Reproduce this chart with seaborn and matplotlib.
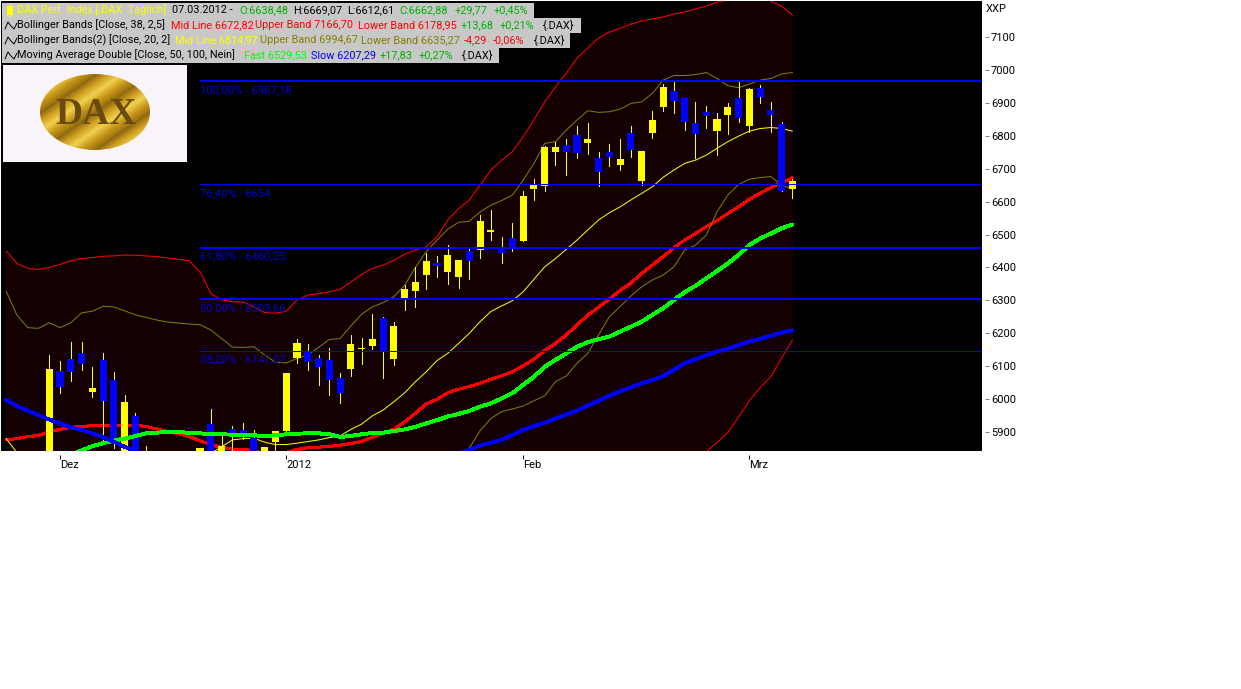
import matplotlib
matplotlib.use('Agg')
import matplotlib.pyplot as plt
from matplotlib.colors import LinearSegmentedColormap
from matplotlib.patches import Ellipse, Rectangle
import numpy as np
import seaborn as sns

nan = np.nan

# trading day number, 0 = 1 Dec 2011, 68 = 7 Mar 2012
days = list(range(-5, 69))

opens = [nan, nan, nan, nan, 5800, 6085, 6121, 6140, 6021, 6118, 6058, 5810, 5948, 5800,
         nan, nan, nan, nan, 5800, 5924, 5800, 5908, 5906, 5883, 5800, 5871, 5903, 6124,
         6143, 6124, 6118, 6064, 6091, 6152, 6161, 6246, 6121, 6301, 6328, 6377, 6413, 6386,
         6371, 6450, 6453, 6508, 6456, 6489, 6480, 6638, 6647, 6750, 6772, 6802, 6778, 6732,
         6750, 6711, 6808, 6662, 6808, 6887, 6936, 6915, 6839, 6872, 6814, 6863, 6915, 6830,
         6945, 6878, 6836, 6638]
highs = [nan, nan, nan, nan, 6134, 6115, 6173, 6173, 6098, 6140, 6082, 6012, 5957, 5857,
         nan, nan, nan, nan, 5851, 5970, 5887, 5918, 5928, 5906, 5854, 5903, 6079, 6182,
         6167, 6134, 6155, 6078, 6194, 6185, 6258, 6248, 6234, 6346, 6401, 6443, 6435, 6468,
         6423, 6459, 6559, 6574, 6492, 6535, 6632, 6668, 6769, 6781, 6790, 6829, 6839, 6750,
         6775, 6790, 6829, 6754, 6875, 6957, 6966, 6915, 6902, 6890, 6869, 6899, 6966, 6945,
         6954, 6902, 6842, 6669]
lows = [nan, nan, nan, nan, 5780, 6018, 6055, 6088, 6006, 5875, 5850, 5800, 5790, 5790,
        nan, nan, nan, nan, 5790, 5790, 5790, 5845, 5879, 5790, 5790, 5830, 5903, 6110,
        6088, 6042, 6012, 5988, 6070, 6106, 6152, 6064, 6103, 6270, 6280, 6334, 6371, 6350,
        6337, 6365, 6428, 6483, 6413, 6450, 6480, 6605, 6632, 6711, 6681, 6732, 6744, 6647,
        6708, 6696, 6735, 6650, 6793, 6875, 6869, 6817, 6732, 6823, 6741, 6805, 6842, 6812,
        6899, 6811, 6632, 6612]
closes = [nan, nan, nan, nan, 6091, 6036, 6082, 6106, 6033, 5994, 5875, 5991, 5800, 5830,
          nan, nan, nan, nan, 5851, 5800, 5857, 5892, 5892, 5800, 5854, 5903, 6079, 6170,
          6112, 6097, 6058, 6018, 6167, 6155, 6182, 6143, 6222, 6334, 6356, 6419, 6404, 6438,
          6422, 6419, 6541, 6514, 6444, 6459, 6617, 6653, 6766, 6766, 6750, 6748, 6790, 6690,
          6735, 6729, 6757, 6754, 6848, 6948, 6905, 6842, 6805, 6860, 6851, 6887, 6854, 6942,
          6918, 6863, 6632, 6662]

bb38_upper = [6450, 6412, 6397, 6394, 6400, 6409, 6420, 6427, 6430, 6434, 6435, 6438, 6437, 6435,
              6433, 6429, 6425, 6420, 6387, 6321, 6301, 6296, 6295, 6280, 6263, 6261, 6267, 6301,
              6316, 6321, 6326, 6333, 6356, 6379, 6397, 6407, 6422, 6440, 6453, 6463, 6493, 6544,
              6579, 6605, 6650, 6696, 6726, 6752, 6797, 6848, 6903, 6949, 6990, 7036, 7067, 7097,
              7115, 7127, 7139, 7149, 7155, 7161, 7170, 7176, 7185, 7194, 7206, 7212, 7222, 7225,
              7220, 7209, 7194, 7167]
bb38_mid = [5876, 5880, 5886, 5889, 5901, 5908, 5914, 5917, 5919, 5920, 5920, 5920, 5920, 5917,
            5909, 5901, 5895, 5886, 5873, 5862, 5853, 5848, 5848, 5842, 5835, 5835, 5838, 5847,
            5852, 5854, 5856, 5860, 5865, 5871, 5884, 5896, 5908, 5931, 5957, 5985, 5999, 6019,
            6030, 6038, 6048, 6060, 6071, 6083, 6101, 6121, 6147, 6169, 6195, 6225, 6255, 6279,
            6304, 6330, 6352, 6382, 6407, 6433, 6460, 6483, 6503, 6524, 6542, 6564, 6584, 6607,
            6625, 6643, 6657, 6672]
# off the bottom of the chart until 59
bb38_lower = [nan] * 64 + [5800, 5840, 5868, 5898, 5945, 5995, 6035, 6068, 6125, 6179]

bb20_upper = [6328, 6255, 6217, 6215, 6232, 6217, 6232, 6262, 6267, 6282, 6280, 6268, 6256, 6248,
              6240, 6234, 6231, 6228, 6226, 6210, 6184, 6158, 6157, 6159, 6134, 6112, 6110, 6123,
              6134, 6157, 6181, 6184, 6222, 6258, 6280, 6293, 6311, 6346, 6400, 6448, 6483, 6516,
              6537, 6540, 6569, 6589, 6603, 6620, 6665, 6716, 6777, 6782, 6817, 6848, 6876, 6871,
              6873, 6881, 6898, 6903, 6929, 6969, 6983, 6983, 6986, 6992, 6974, 6952, 6946, 6957,
              6969, 6974, 6988, 6992]
# -3 to 13 are off the bottom of the chart
bb20_mid = [5880, 5837] + [nan] * 17 + [5835, 5855, 5876, 5880, 5881, 5869, 5862, 5862, 5866, 5871,
            5876, 5883, 5888, 5908, 5924, 5949, 5967, 5992, 6019, 6053, 6083, 6117, 6139, 6169,
            6200, 6235, 6266, 6283, 6299, 6326, 6364, 6402, 6427, 6455, 6483, 6514, 6544, 6566,
            6584, 6605, 6625, 6645, 6674, 6696, 6716, 6726, 6741, 6762, 6782, 6799, 6814, 6822,
            6825, 6822, 6814]
bb20_lower = [nan] * 42 + [5800, 5851, 5904, 5941, 5962, 5970, 5979, 5995, 6010, 6053, 6070, 6109,
              6139, 6195, 6250, 6281, 6313, 6341, 6362, 6377, 6402, 6453, 6468, 6498, 6569, 6620,
              6652, 6668, 6673, 6676, 6650, 6638]

ma_fast = [nan] * 6 + [5830, 5844, 5857, 5866, 5874, 5880, 5888, 5896, 5898, 5900, 5901, 5897,
           5896, 5893, 5893, 5892, 5891, 5890, 5888, 5890, 5893, 5895, 5896, 5896, 5893, 5885,
           5888, 5893, 5897, 5898, 5903, 5908, 5916, 5926, 5936, 5947, 5955, 5964, 5977, 5987,
           6002, 6018, 6043, 6068, 6098, 6119, 6139, 6159, 6173, 6182, 6190, 6205, 6220, 6235,
           6256, 6276, 6301, 6325, 6344, 6367, 6389, 6412, 6438, 6468, 6488, 6503, 6519, 6530]
# 9 to 36 are off the bottom of the chart
ma_slow = [5997, 5979, 5965, 5951, 5938, 5926, 5914, 5906, 5896, 5884, 5870, 5855, 5843, 5830] \
    + [nan] * 28 + [5835, 5845, 5859, 5868, 5876, 5891, 5906, 5918, 5928, 5941, 5953, 5965, 5980,
       5995, 6010, 6023, 6036, 6048, 6058, 6070, 6089, 6109, 6121, 6133, 6144, 6153, 6164, 6175,
       6183, 6192, 6202, 6209]

fib_levels = [6967.18, 6654, 6460.25, 6303.66, 6147.07]
fib_widths = [1.1, 0.72, 1.1, 1.1, 0.72]
fib_labels = ['100,00% - 6967,18', '76,40% - 6654', '61,80% - 6460,25',
              '50,00% - 6303,66', '38,20% - 6147,07']

y_ticks = [5900, 6000, 6100, 6200, 6300, 6400, 6500, 6600, 6700, 6800, 6900, 7000, 7100]
x_ticks = [0, 21, 43, 64]
x_labels = ['Dez', '2012', 'Feb', 'Mrz']

GREEN = '#00b000'
LIME = '#00ff00'
OLIVE = '#808000'
rows = [
    (534, [(17, 'DAX Perf. Index [.DAX  Täglich]', '#ffff00'), (172, '07.03.2012 -', 'black'),
           (239, 'O:6638,48', GREEN), (293.5, 'H:6669,07', 'black'), (347.5, 'L:6612,61', 'black'),
           (399.5, 'C:6662,88', GREEN), (454.5, '+29,77', GREEN), (494, '+0,45%', GREEN)]),
    (581, [(17, 'Bollinger Bands [Close, 38, 2,5]', 'black'), (171, 'Mid Line 6672,82', 'red'),
           (255, 'Upper Band 7166,70', 'red'), (357.5, 'Lower Band 6178,95', 'red'),
           (461, '+13,68', GREEN), (500, '+0,21%', GREEN), (543, '{.DAX}', 'black')]),
    (570, [(17, 'Bollinger Bands(2) [Close, 20, 2]', 'black'), (175, 'Mid Line 6814,97', '#ffff00'),
           (259.5, 'Upper Band 6994,67', OLIVE), (361, 'Lower Band 6635,27', OLIVE),
           (464, '-4,29', 'red'), (493, '-0,06%', 'red'), (534, '{.DAX}', 'black')]),
    (499, [(17, 'Moving Average Double [Close, 50, 100, Nein]', 'black'), (244, 'Fast 6529,53', LIME),
           (311, 'Slow 6207,29', 'blue'), (380, '+17,83', GREEN), (419, '+0,27%', GREEN),
           (462, '{.DAX}', 'black')]),
]

sns.set_style('white')
plt.rcParams['font.family'] = ['Roboto', 'DejaVu Sans']

fig = plt.figure(figsize=(12.41, 6.89), dpi=100, facecolor='white')
ax = fig.add_axes([1 / 1241, 238 / 689, 981 / 1241, 450 / 689], facecolor='black')
for side in ['left', 'top', 'bottom', 'right']:
    ax.spines[side].set_visible(False)
ax.spines['right'].set_position(('outward', 2))
ax.spines['bottom'].set_position(('outward', 3))


def band_line(values, color, width, order, smooth=False):
    sns.lineplot(x=days, y=values, ax=ax, color=color, linewidth=width, zorder=order,
                 estimator=None, antialiased=smooth, legend=False)


# dark cloud between the outer bollinger bands
cloud_floor = np.nan_to_num(np.array(bb38_lower, dtype=float), nan=5000)
ax.fill_between(days, bb38_upper, cloud_floor, color='#140000', linewidth=0, antialiased=False, zorder=1)

band_line(bb38_upper, '#ff0000', 0.72, 2, smooth=True)
band_line(bb38_lower, '#ff0000', 0.72, 2, smooth=True)
band_line(bb38_mid, '#ff0000', 1.5, 2)
band_line(bb20_upper, OLIVE, 0.72, 2, smooth=True)
band_line(bb20_lower, OLIVE, 0.72, 2, smooth=True)
band_line(bb20_mid, '#ffff00', 0.72, 2, smooth=True)

# candles, yellow = up and blue = down, the wicks are yellow on both
for d, o, h, l, c in zip(days, opens, highs, lows, closes):
    if np.isnan(o):
        continue
    ax.vlines(d, l, h, color='#ffff00', linewidth=0.6, antialiased=False, zorder=3)
    ax.bar(d, max(abs(c - o), 3), bottom=min(o, c), width=0.66, linewidth=0,
           color='#ffff00' if c >= o else '#0000ff', antialiased=False, zorder=4)

band_line(ma_fast, LIME, 2.1, 5)
band_line(ma_slow, '#0000ff', 2.1, 5)

for level, width, label in zip(fib_levels, fib_widths, fib_labels):
    ax.hlines(level, 12.95, 85.6, color='#0000ff', linewidth=width, antialiased=False, zorder=6)
    ax.annotate(label, xy=(12.95, level), xytext=(0, -9), textcoords='offset pixels',
                color='#0000d0', fontsize=8.2, va='center', ha='left', zorder=6)

ax.set_xlim(-5.48, 85.6)
ax.set_ylim(5842.3, 7209.4)
ax.set_xlabel('')
ax.set_ylabel('')
ax.yaxis.tick_right()
ax.set_yticks(y_ticks)
ax.set_xticks(x_ticks)
ax.set_xticklabels(x_labels, ha='left')
ax.tick_params(axis='y', right=True, length=3, width=0.7, color='#808080', pad=1.5, labelsize=8, labelcolor='black')
ax.tick_params(axis='x', bottom=True, length=3, width=0.7, color='black', pad=0.5, labelsize=8, labelcolor='black')

# everything drawn on top of the chart is placed in image pixels
top = fig.add_axes([0, 0, 1, 1], facecolor='none')
top.set_xlim(0, 1241)
top.set_ylim(689, 0)
top.axis('off')

top.text(986, 9.5, 'XXP', fontsize=8, color='black', va='center', ha='left')

for n, (right, pieces) in enumerate(rows):
    y0 = 3 + 15 * n
    top.add_patch(Rectangle((2, y0), right - 2, 15, color='#c8c8c8', linewidth=0))
    for x, text, color in pieces:
        top.text(x, y0 + 7, text, color=color, fontsize=7.8, va='center', ha='left')
    if n == 0:
        top.plot([10, 10], [4, 17], color='#ffff00', linewidth=0.8)
        top.add_patch(Rectangle((7, 6), 6, 9, color='#ffff00', linewidth=0))
    else:
        top.plot([5, 8, 11, 14, 17], [y0 + 11, y0 + 4, y0 + 8, y0 + 11, y0 + 5], color='black', linewidth=0.7)

# logo
top.add_patch(Rectangle((3, 65), 184, 97, color='#f8f4fa', linewidth=0))
gold = LinearSegmentedColormap.from_list('gold', ['#8a6410', '#d0a020', '#f0d050', '#c89818', '#9a7010'])
gx, gy = np.meshgrid(np.linspace(0, 1, 110), np.linspace(0, 1, 76))
img = top.imshow((gx + gy) % 0.5, cmap=gold, extent=(40, 150, 150, 74), aspect='auto', zorder=2)
disc = Ellipse((95, 112), 110, 76, transform=top.transData, facecolor='none', edgecolor='none')
top.add_patch(disc)
img.set_clip_path(disc)
top.set_xlim(0, 1241)
top.set_ylim(689, 0)
top.text(96, 115, 'DAX', family='Liberation Serif', fontweight='bold',
         fontsize=27, color='#6b4a10', ha='center', va='center', zorder=3)

fig.savefig('out.png', dpi=100)
